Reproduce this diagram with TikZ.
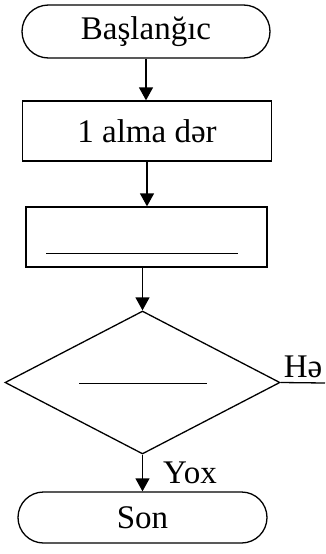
\documentclass[tikz,border=0pt]{standalone}
\usepackage{fontspec}
\setmainfont{Liberation Serif}
\usetikzlibrary{shapes.geometric,shapes.misc,arrows.meta}
\begin{document}
\begin{tikzpicture}[x=1pt,y=1pt,
  every node/.style={font=\fontsize{33}{39}\selectfont, inner sep=0pt},
  term/.style={draw, line width=1.3pt, rounded rectangle, minimum width=#1, minimum height=53pt},
  procbox/.style={draw, line width=1.3pt, rectangle, minimum width=#1, minimum height=60pt},
  decbox/.style={draw, line width=1.3pt, diamond, minimum width=275pt, minimum height=143pt},
  flow/.style={line width=1.3pt, -{Triangle[length=13pt,width=14pt]}},
  plain/.style={line width=1.3pt},
  blank/.style={line width=1pt}]
\useasboundingbox (0,0) rectangle (325,-554);
\node[term=248pt] (start) at (146,-31.5) {Başlanğıc};
\node[procbox=249pt] (box1) at (147,-131) {1 alma dər};
\node[procbox=241pt] (box2) at (146.5,-237) {};
\node[decbox] (dec) at (142.5,-382.5) {};
\node[term=249pt, minimum height=51pt] (son) at (142.5,-517.5) {Son};
\coordinate (b2l) at (46,-253);
\coordinate (b2r) at (238,-253);
\coordinate (dl) at (79,-383);
\coordinate (dr) at (207,-383);
\coordinate (yesend) at (325,-383);
\node (he) at (303,-367) {Hə};
\node (yox) at (190,-473) {Yox};
\draw[blank] (b2l) -- (b2r);
\draw[blank] (dl) -- (dr);
\draw[plain] (dec.east) -- (yesend);
\draw[flow] (start.south) -- (start.south |- box1.north);
\draw[flow] (box1.south) -- (box1.south |- box2.north);
\draw[flow] (box2.south -| dec.north) -- (dec.north);
\draw[flow] (dec.south) -- (dec.south |- son.north);
\end{tikzpicture}
\end{document}
